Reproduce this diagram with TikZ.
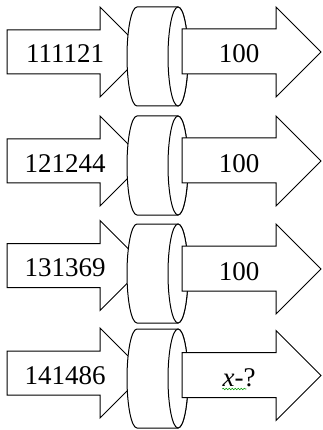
\documentclass[tikz,border=0pt]{standalone}
\usepackage{fontspec}
\setmainfont{Liberation Serif}
\usetikzlibrary{decorations.pathmorphing}

\begin{document}
\begin{tikzpicture}[
  x=1pt,y=1pt,
  block/.style={draw,fill=white,line width=1pt,line join=miter},
  num/.style={font=\fontsize{27}{30}\selectfont,anchor=base,inner sep=0pt},
  squiggle/.style={draw=green!60!black,line width=0.6pt,decorate,
    decoration={snake,amplitude=0.7pt,segment length=3pt}}
  ]
  \useasboundingbox (0,0) rectangle (322,-430);

  \foreach \name/\inval/\outval/\dl/\dc/\dr in {
      A/111121/100/0/0/0,
      B/121244/100/109/109/109,
      C/131369/100/213.5/217/217,
      D/141486/{\textit{x}-?}/321/322/323.5} {
    \begin{scope}[yshift=-\dl pt]
      \path[block] (7,-30) -- (100,-30) -- (100,-7) -- (145,-52)
        -- (100,-97) -- (100,-74) -- (7,-74) -- cycle;
      \node[num] (in\name) at (65,-63) {\inval};
    \end{scope}
    \begin{scope}[yshift=-\dc pt]
      \path[block] (137,-7) -- (178,-7)
        arc[start angle=90,end angle=-90,x radius=10,y radius=49.5]
        -- (137,-106)
        arc[start angle=270,end angle=90,x radius=10,y radius=49.5] -- cycle;
      \path[block] (178,-56.5) ellipse[x radius=10,y radius=49.5];
    \end{scope}
    \begin{scope}[yshift=-\dr pt]
      \path[block] (182,-29) -- (276,-29) -- (276,-7) -- (321,-52)
        -- (276,-97) -- (276,-74) -- (182,-74) -- cycle;
      \node[num] (out\name) at (239,-63) {\outval};
    \end{scope}
  }

  \path[squiggle] ([yshift=-2.5pt]outD.base west) -- ++(24,0);
\end{tikzpicture}
\end{document}
